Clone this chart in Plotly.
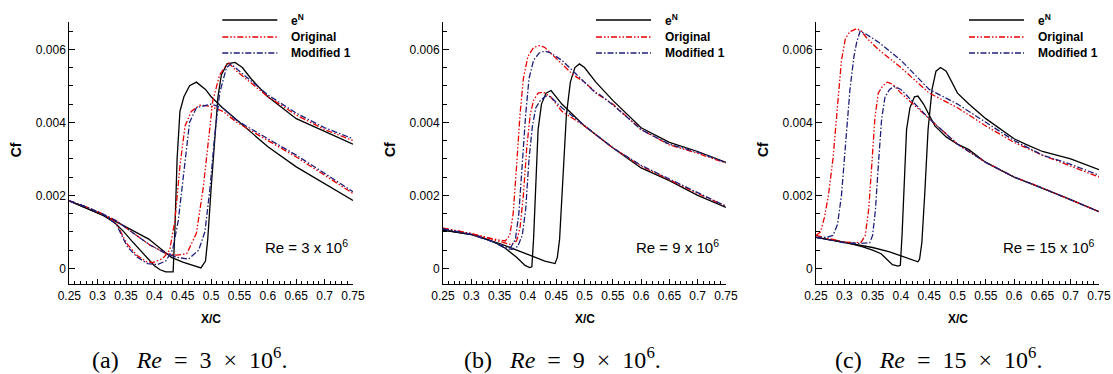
import plotly.graph_objects as go

W, H = 1113, 374

# ---------------- tick labels / texts ----------------
x_tick_vals = [0.25, 0.3, 0.35, 0.4, 0.45, 0.5, 0.55, 0.6, 0.65, 0.7, 0.75]
x_tick_text = ["0.25", "0.3", "0.35", "0.4", "0.45", "0.5", "0.55", "0.6", "0.65", "0.7", "0.75"]
y_tick_vals = [0, 0.002, 0.004, 0.006]
y_tick_text = ["0", "0.002", "0.004", "0.006"]

series_names = ["e<sup>N</sup>", "Original", "Modified 1"]
re_labels = ["Re = 3 x 10<sup>6</sup>", "Re = 9 x 10<sup>6</sup>", "Re = 15 x 10<sup>6</sup>"]
NB = "\u00a0"
captions = [f"(a){NB*3}<i>Re</i>{NB*2}={NB*2}3{NB*2}×{NB*2}10<sup>6</sup>.",
            f"(b){NB*3}<i>Re</i>{NB*2}={NB*2}9{NB*2}×{NB*2}10<sup>6</sup>.",
            f"(c){NB*3}<i>Re</i>{NB*2}={NB*2}15{NB*2}×{NB*2}10<sup>6</sup>."]

# ---------------- panel (a) Re = 3e6 ----------------
a_eN_x1 = [0.25, 0.27, 0.29, 0.31, 0.33, 0.345, 0.36, 0.375, 0.39, 0.40, 0.41, 0.42, 0.433, 0.436, 0.44, 0.445, 0.452, 0.462, 0.474, 0.49, 0.50, 0.52, 0.55, 0.58, 0.60, 0.65, 0.70, 0.75]
a_eN_y1 = [0.00185, 0.00172, 0.00160, 0.00145, 0.00125, 0.00102, 0.00075, 0.00050, 0.00022, 0.00007, -0.00004, -0.0001, -0.0001, 0.0010, 0.0030, 0.0043, 0.0047, 0.0050, 0.0051, 0.0049, 0.0047, 0.0044, 0.0040, 0.0036, 0.00333, 0.00278, 0.00233, 0.00186]
a_eN_x2 = [0.25, 0.27, 0.29, 0.31, 0.33, 0.35, 0.37, 0.39, 0.41, 0.43, 0.45, 0.47, 0.482, 0.49, 0.494, 0.50, 0.506, 0.512, 0.518, 0.528, 0.542, 0.555, 0.57, 0.60, 0.625, 0.65, 0.70, 0.75]
a_eN_y2 = [0.00185, 0.00172, 0.00160, 0.00145, 0.00130, 0.00113, 0.00097, 0.00080, 0.00055, 0.00030, 0.00017, 0.00006, 0.00001, 0.0002, 0.0008, 0.0022, 0.0036, 0.0047, 0.0053, 0.0056, 0.00564, 0.0055, 0.0052, 0.0047, 0.0044, 0.0041, 0.00375, 0.0034]
a_or_x1 = [0.25, 0.28, 0.31, 0.333, 0.351, 0.369, 0.386, 0.398, 0.415, 0.427, 0.436, 0.445, 0.454, 0.465, 0.48, 0.498, 0.521, 0.545, 0.60, 0.65, 0.70, 0.75]
a_or_y1 = [0.00185, 0.00168, 0.00148, 0.00123, 0.00068, 0.00036, 0.00018, 0.00016, 0.00027, 0.0005, 0.0013, 0.0028, 0.0039, 0.0043, 0.00447, 0.00444, 0.0043, 0.0040, 0.0035, 0.00305, 0.00255, 0.00205]
a_or_x2 = [0.25, 0.28, 0.31, 0.333, 0.363, 0.392, 0.421, 0.439, 0.457, 0.474, 0.486, 0.495, 0.503, 0.515, 0.53, 0.545, 0.60, 0.65, 0.70, 0.75]
a_or_y2 = [0.00185, 0.00168, 0.00148, 0.0013, 0.00096, 0.00064, 0.0004, 0.00036, 0.0004, 0.00096, 0.0022, 0.0035, 0.0046, 0.0053, 0.00564, 0.0054, 0.0047, 0.0042, 0.0038, 0.0035]
a_md_x1 = [0.25, 0.28, 0.31, 0.333, 0.352, 0.37, 0.388, 0.405, 0.42, 0.432, 0.442, 0.454, 0.462, 0.474, 0.50, 0.52, 0.545, 0.60, 0.65, 0.70, 0.75]
a_md_y1 = [0.00185, 0.00168, 0.00148, 0.0012, 0.0006, 0.0003, 0.00013, 0.0001, 0.0002, 0.0005, 0.0013, 0.0030, 0.0040, 0.0044, 0.0045, 0.0044, 0.00405, 0.00355, 0.0031, 0.0026, 0.0021]
a_md_x2 = [0.25, 0.28, 0.31, 0.333, 0.363, 0.392, 0.421, 0.44, 0.46, 0.478, 0.489, 0.498, 0.506, 0.515, 0.527, 0.535, 0.55, 0.60, 0.65, 0.70, 0.75]
a_md_y2 = [0.00185, 0.00168, 0.00148, 0.0013, 0.00096, 0.00064, 0.0004, 0.0003, 0.00025, 0.0005, 0.001, 0.0022, 0.0036, 0.0048, 0.0055, 0.0056, 0.0054, 0.00475, 0.00425, 0.00385, 0.00355]

# ---------------- panel (b) Re = 9e6 ----------------
b_eN_x1 = [0.25, 0.28, 0.31, 0.34, 0.36, 0.38, 0.395, 0.403, 0.407, 0.41, 0.414, 0.418, 0.424, 0.432, 0.441, 0.45, 0.46, 0.48, 0.50, 0.55, 0.60, 0.65, 0.70, 0.75]
b_eN_y1 = [0.00105, 0.00098, 0.0009, 0.00072, 0.00055, 0.0003, 0.00008, 0.00002, 0.00004, 0.0008, 0.0025, 0.0038, 0.0045, 0.0048, 0.00487, 0.0047, 0.0045, 0.0042, 0.0039, 0.0033, 0.00275, 0.0024, 0.002, 0.00167]
b_eN_x2 = [0.25, 0.30, 0.35, 0.38, 0.41, 0.43, 0.448, 0.452, 0.456, 0.462, 0.468, 0.475, 0.483, 0.491, 0.50, 0.52, 0.55, 0.60, 0.65, 0.70, 0.75]
b_eN_y2 = [0.00105, 0.00092, 0.00068, 0.0005, 0.0003, 0.0002, 0.00013, 0.0003, 0.0008, 0.0025, 0.0042, 0.0051, 0.0055, 0.0056, 0.0055, 0.0051, 0.0046, 0.00385, 0.00345, 0.0032, 0.0029]
b_or_x1 = [0.25, 0.30, 0.34, 0.36, 0.37, 0.38, 0.386, 0.392, 0.398, 0.404, 0.41, 0.418, 0.427, 0.44, 0.46, 0.50, 0.55, 0.60, 0.65, 0.70, 0.75]
b_or_y1 = [0.0011, 0.00095, 0.00078, 0.00068, 0.00065, 0.00075, 0.0011, 0.002, 0.0033, 0.0042, 0.0046, 0.0048, 0.00483, 0.0047, 0.0043, 0.0039, 0.0033, 0.0028, 0.00242, 0.00205, 0.0017]
b_or_x2 = [0.25, 0.30, 0.34, 0.36, 0.368, 0.374, 0.38, 0.386, 0.392, 0.40, 0.41, 0.42, 0.43, 0.44, 0.46, 0.48, 0.50, 0.52, 0.525, 0.55, 0.60, 0.65, 0.70, 0.75]
b_or_y2 = [0.0011, 0.00095, 0.0008, 0.00075, 0.0009, 0.0015, 0.0028, 0.0042, 0.0052, 0.0058, 0.00605, 0.0061, 0.00605, 0.0059, 0.0056, 0.0053, 0.0051, 0.0048, 0.00475, 0.0045, 0.0038, 0.00338, 0.00315, 0.00288]
b_md_x1 = [0.25, 0.30, 0.34, 0.36, 0.372, 0.382, 0.39, 0.396, 0.402, 0.408, 0.414, 0.422, 0.432, 0.44, 0.46, 0.50, 0.55, 0.60, 0.65, 0.70, 0.75]
b_md_y1 = [0.00108, 0.00093, 0.00072, 0.00055, 0.00052, 0.0006, 0.0009, 0.0016, 0.003, 0.0039, 0.0044, 0.0046, 0.00472, 0.0047, 0.0044, 0.0039, 0.0033, 0.00282, 0.00245, 0.00207, 0.0017]
b_md_x2 = [0.25, 0.30, 0.34, 0.36, 0.37, 0.378, 0.384, 0.39, 0.396, 0.402, 0.41, 0.42, 0.43, 0.44, 0.46, 0.48, 0.50, 0.52, 0.525, 0.55, 0.60, 0.65, 0.70, 0.75]
b_md_y2 = [0.00108, 0.00093, 0.00072, 0.00058, 0.00058, 0.0008, 0.0015, 0.0028, 0.0042, 0.0052, 0.0057, 0.0059, 0.00595, 0.0059, 0.0057, 0.0054, 0.0051, 0.0048, 0.00478, 0.00448, 0.0038, 0.0034, 0.00318, 0.0029]

# ---------------- panel (c) Re = 15e6 ----------------
c_eN_x1 = [0.25, 0.30, 0.33, 0.35, 0.365, 0.375, 0.385, 0.395, 0.399, 0.402, 0.406, 0.41, 0.416, 0.424, 0.43, 0.44, 0.45, 0.46, 0.48, 0.50, 0.52, 0.55, 0.60, 0.65, 0.70, 0.75]
c_eN_y1 = [0.00085, 0.00072, 0.0006, 0.0005, 0.0004, 0.00025, 0.0001, 0.00006, 0.00008, 0.0009, 0.0026, 0.0038, 0.0044, 0.0047, 0.00472, 0.0045, 0.0042, 0.0039, 0.0036, 0.0034, 0.00325, 0.0029, 0.0025, 0.0022, 0.00188, 0.00155]
c_eN_x2 = [0.25, 0.30, 0.35, 0.38, 0.41, 0.43, 0.433, 0.437, 0.442, 0.448, 0.455, 0.462, 0.47, 0.48, 0.50, 0.52, 0.55, 0.60, 0.62, 0.65, 0.70, 0.75]
c_eN_y2 = [0.00085, 0.00072, 0.00057, 0.00045, 0.0003, 0.00018, 0.00025, 0.0007, 0.002, 0.0038, 0.0049, 0.0054, 0.0055, 0.0054, 0.0048, 0.0045, 0.0041, 0.00355, 0.0034, 0.0032, 0.003, 0.0027]
c_or_x1 = [0.25, 0.28, 0.30, 0.32, 0.33, 0.337, 0.343, 0.348, 0.354, 0.36, 0.368, 0.376, 0.385, 0.40, 0.45, 0.50, 0.55, 0.60, 0.65, 0.70, 0.75]
c_or_y1 = [0.0009, 0.0008, 0.00072, 0.0007, 0.00072, 0.0009, 0.0016, 0.0027, 0.0041, 0.0048, 0.005, 0.0051, 0.00505, 0.0048, 0.0041, 0.0034, 0.0029, 0.0025, 0.0022, 0.00188, 0.00155]
c_or_x2 = [0.25, 0.258, 0.265, 0.272, 0.28, 0.288, 0.295, 0.302, 0.31, 0.322, 0.33, 0.34, 0.36, 0.40, 0.45, 0.50, 0.55, 0.60, 0.65, 0.70, 0.75]
c_or_y2 = [0.0009, 0.001, 0.0014, 0.002, 0.003, 0.0045, 0.0057, 0.0063, 0.00648, 0.00657, 0.0065, 0.0063, 0.006, 0.0055, 0.0048, 0.0044, 0.0039, 0.00345, 0.0031, 0.0028, 0.0025]
c_md_x1 = [0.25, 0.30, 0.33, 0.345, 0.35, 0.355, 0.36, 0.366, 0.372, 0.38, 0.388, 0.40, 0.45, 0.50, 0.55, 0.60, 0.65, 0.70, 0.75]
c_md_y1 = [0.00085, 0.0007, 0.00068, 0.0007, 0.0009, 0.0016, 0.0028, 0.0041, 0.0047, 0.0049, 0.00498, 0.0049, 0.0041, 0.0034, 0.0029, 0.0025, 0.0022, 0.00188, 0.00155]
c_md_x2 = [0.25, 0.27, 0.28, 0.288, 0.295, 0.302, 0.31, 0.317, 0.322, 0.328, 0.34, 0.36, 0.40, 0.45, 0.50, 0.55, 0.60, 0.65, 0.70, 0.75]
c_md_y2 = [0.00085, 0.00085, 0.0009, 0.0012, 0.002, 0.0033, 0.0049, 0.0058, 0.0062, 0.0065, 0.0064, 0.0062, 0.0057, 0.0049, 0.0045, 0.004, 0.0035, 0.0031, 0.00285, 0.00255]

panels = [
    [(a_eN_x1, a_eN_y1, a_eN_x2, a_eN_y2), (a_or_x1, a_or_y1, a_or_x2, a_or_y2), (a_md_x1, a_md_y1, a_md_x2, a_md_y2)],
    [(b_eN_x1, b_eN_y1, b_eN_x2, b_eN_y2), (b_or_x1, b_or_y1, b_or_x2, b_or_y2), (b_md_x1, b_md_y1, b_md_x2, b_md_y2)],
    [(c_eN_x1, c_eN_y1, c_eN_x2, c_eN_y2), (c_or_x1, c_or_y1, c_or_x2, c_or_y2), (c_md_x1, c_md_y1, c_md_x2, c_md_y2)],
]

# ---------------- styling / layout ----------------
line_styles = [
    dict(color="#000000", width=1.3, dash="solid"),
    dict(color="#e60000", width=1.3, dash="6px,2px,1.5px,2px,1.5px,2px"),
    dict(color="#1f1f7a", width=1.3, dash="6px,2px,1.5px,2px"),
]
# positions in window pixels
left_px = [69.3, 443.0, 816.0]
right_px = [353.0, 726.0, 1099.0]
top_px, bottom_px = 21.7, 284.3
re_center = [0.836, 0.830, 0.823]
re_y_px = 246
caption_x_px = [189, 562, 938]
caption_y_px = 358
cf_x_offset = -53      # Cf label centre relative to axis line
cf_y_px = 150
xc_y_px = 319
legend_rows_px = [20, 37, 53]
legend_line_rel = (153, 208)
legend_text_rel = 220

def px2x(xw):
    return xw / W

def px2y(yw):
    return 1 - yw / H

SANS = "Liberation Sans"
YMIN, YMAX = -0.000438, 0.006756

fig = go.Figure()
layout = dict(width=W, height=H, autosize=False,
              margin=dict(l=0, r=0, t=0, b=0, pad=0),
              paper_bgcolor="white", plot_bgcolor="white", showlegend=False,
              font=dict(family=SANS, size=12, color="black"))
annotations = []
shapes = []

for p in range(3):
    xa = "x" if p == 0 else f"x{p+1}"
    ya = "y" if p == 0 else f"y{p+1}"
    for s in range(3):
        x1, y1, x2, y2 = panels[p][s]
        xs = list(x1) + [None] + list(x2)
        ys = list(y1) + [None] + list(y2)
        fig.add_trace(go.Scatter(x=xs, y=ys, mode="lines", name=series_names[s],
                                 line=line_styles[s], xaxis=xa, yaxis=ya,
                                 connectgaps=False, showlegend=False))
    xkey = "xaxis" if p == 0 else f"xaxis{p+1}"
    ykey = "yaxis" if p == 0 else f"yaxis{p+1}"
    layout[xkey] = dict(
        domain=[px2x(left_px[p]), px2x(right_px[p])], anchor=ya, automargin=False,
        range=[0.25, 0.75], tickmode="array", tickvals=x_tick_vals, ticktext=x_tick_text,
        ticks="inside", ticklen=5, tickwidth=1, tickcolor="black",
        minor=dict(tickmode="linear", tick0=0.25, dtick=0.01, ticks="inside", ticklen=3,
                   tickwidth=1, tickcolor="black", showgrid=False),
        showline=True, linecolor="black", linewidth=1, mirror=False,
        showgrid=False, zeroline=False,
        tickfont=dict(family=SANS, size=12, color="black"),
    )
    layout[ykey] = dict(
        domain=[px2y(bottom_px), px2y(top_px)], anchor=xa, automargin=False,
        range=[YMIN, YMAX], tickmode="array", tickvals=y_tick_vals, ticktext=y_tick_text,
        ticks="inside", ticklen=6, tickwidth=1, tickcolor="black",
        minor=dict(tickmode="linear", tick0=0, dtick=0.0005, ticks="inside", ticklen=3.5,
                   tickwidth=1, tickcolor="black", showgrid=False),
        showline=True, linecolor="black", linewidth=1, mirror=False,
        showgrid=False, zeroline=False,
        tickfont=dict(family=SANS, size=12, color="black"),
    )
    # axis titles
    annotations.append(dict(
        text="Cf", xref="paper", yref="paper",
        x=px2x(left_px[p] + cf_x_offset), y=px2y(cf_y_px),
        xanchor="center", yanchor="middle", textangle=-90, showarrow=False,
        font=dict(family=SANS, size=14, weight="bold", color="black")))
    annotations.append(dict(
        text="X/C", xref="paper", yref="paper",
        x=px2x((left_px[p] + right_px[p]) / 2), y=px2y(xc_y_px),
        xanchor="center", yanchor="middle", showarrow=False,
        font=dict(family=SANS, size=12, weight="bold", color="black")))
    # legend (key lines + labels)
    for s in range(3):
        yrow = px2y(legend_rows_px[s])
        shapes.append(dict(type="line", xref="paper", yref="paper",
                           x0=px2x(left_px[p] + legend_line_rel[0]),
                           x1=px2x(left_px[p] + legend_line_rel[1]),
                           y0=yrow, y1=yrow, line=line_styles[s]))
        annotations.append(dict(
            text=series_names[s], xref="paper", yref="paper",
            x=px2x(left_px[p] + legend_text_rel), y=yrow,
            xanchor="left", yanchor="middle", showarrow=False,
            font=dict(family=SANS, size=12, weight="bold", color="black")))
    # Reynolds number label
    annotations.append(dict(
        text=re_labels[p], xref=f"{xa} domain", yref="paper",
        x=re_center[p], y=px2y(re_y_px),
        xanchor="center", yanchor="middle", showarrow=False,
        font=dict(family=SANS, size=15, color="black")))
    # sub-figure caption
    annotations.append(dict(
        text=captions[p], xref="paper", yref="paper",
        x=px2x(caption_x_px[p]), y=px2y(caption_y_px), xanchor="center", yanchor="middle",
        showarrow=False, font=dict(family="Liberation Serif", size=24, color="black")))

layout["annotations"] = annotations
layout["shapes"] = shapes
fig.update_layout(**layout)
fig.write_html(
    "out.html",
    config={"displayModeBar": False},
    post_script="document.body.style.margin='0';document.body.style.overflow='hidden';",
)
